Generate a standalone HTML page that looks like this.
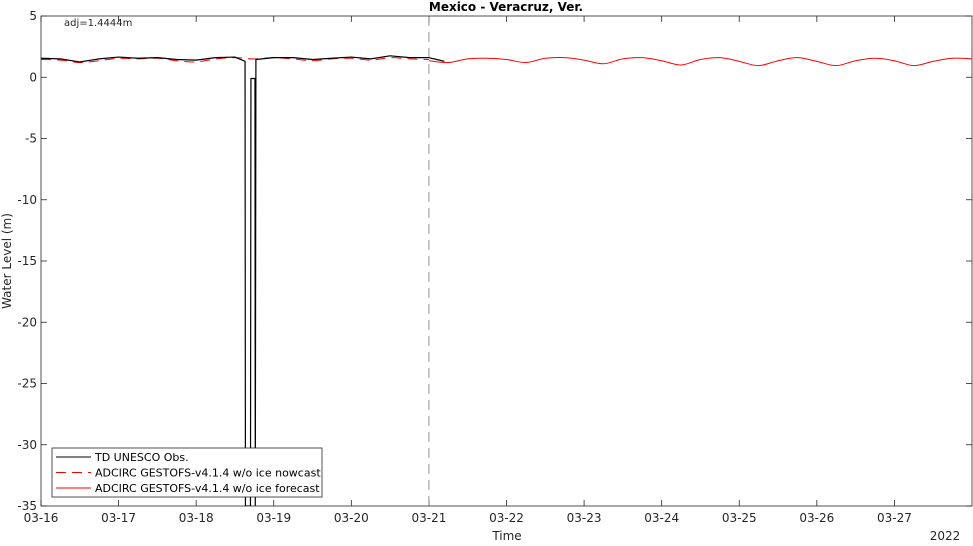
<!DOCTYPE html>
<html><head><meta charset="utf-8"><style>
body{margin:0;background:#fff}
svg text{font-family:"DejaVu Sans","Liberation Sans",sans-serif}
</style></head><body>
<svg id="c" width="973" height="541" xmlns="http://www.w3.org/2000/svg"></svg>
<script>
const xTickLabels=["03-16","03-17","03-18","03-19","03-20","03-21","03-22","03-23","03-24","03-25","03-26","03-27"];
const yTicks=[5,0,-5,-10,-15,-20,-25,-30,-35];
const nowTimes=[0,0.25,0.5,0.75,1,1.25,1.5,1.75,2,2.25,2.5,2.75,3,3.25,3.5,3.75,4,4.25,4.5,4.75,5];
const nowValues=[1.45,1.4,1.2,1.35,1.55,1.5,1.55,1.35,1.25,1.5,1.6,1.5,1.6,1.5,1.35,1.5,1.55,1.4,1.6,1.5,1.45];
const fcTimes=[5,5.25,5.5,5.75,6,6.25,6.5,6.75,7,7.25,7.5,7.75,8,8.25,8.5,8.75,9,9.25,9.5,9.75,10,10.25,10.5,10.75,11,11.25,11.5,11.75,12];
const fcValues=[1.35,1.2,1.5,1.55,1.45,1.2,1.55,1.6,1.4,1.1,1.5,1.6,1.35,1.0,1.45,1.6,1.3,0.95,1.35,1.6,1.3,0.95,1.35,1.55,1.35,0.95,1.3,1.55,1.5];
const obsTimes=[0,0.25,0.5,0.75,1,1.25,1.5,1.75,2,2.25,2.5,2.63,2.635,2.70,2.706,2.758,2.762,2.77,3,3.25,3.5,3.75,4,4.25,4.5,4.75,5,5.1,5.2];
const obsValues=[1.55,1.5,1.25,1.5,1.65,1.55,1.6,1.45,1.4,1.6,1.65,1.3,-35,-35,-0.1,-0.1,-35,1.45,1.6,1.6,1.45,1.55,1.65,1.5,1.75,1.6,1.6,1.45,1.3];
const X0=41,X1=972,Y0=16,Y1=506;
const xs=d=>X0+d*(X1-X0)/12;
const ys=v=>Y0+(5-v)*(Y1-Y0)/40;
const svg=document.getElementById('c');
const NS="http://www.w3.org/2000/svg";
function mk(t,a,p){const e=document.createElementNS(NS,t);for(const k in a)e.setAttribute(k,a[k]);(p||svg).appendChild(e);return e;}
function smooth(T,V){let d=`M${xs(T[0])},${ys(V[0])}`;for(let i=0;i<T.length-1;i++){const p0=i?i-1:i,p3=i+2<T.length?i+2:i+1;
const x1=xs(T[i])+(xs(T[i+1])-xs(T[p0]))/6,y1=ys(V[i])+(ys(V[i+1])-ys(V[p0]))/6;
const x2=xs(T[i+1])-(xs(T[p3])-xs(T[i]))/6,y2=ys(V[i+1])-(ys(V[p3])-ys(V[i]))/6;
d+=` C${x1},${y1} ${x2},${y2} ${xs(T[i+1])},${ys(V[i+1])}`;}return d;}
const defs=mk('defs',{});const cp=mk('clipPath',{id:'pc'},defs);mk('rect',{x:X0,y:Y0,width:X1-X0,height:Y1-Y0},cp);
xTickLabels.forEach((l,i)=>{const x=xs(i);
let t=mk('line',{x1:x,x2:x,y1:Y1,y2:Y1-6,stroke:'#262626','stroke-width':0.8});
mk('line',{x1:x,x2:x,y1:Y0,y2:Y0+6,stroke:'#262626','stroke-width':0.8});
let tx=mk('text',{x:x,y:Y1+16,'font-size':12,'text-anchor':'middle',fill:'#262626'});tx.textContent=l;});
yTicks.forEach(v=>{const y=ys(v);
let t=mk('line',{x1:X0,x2:X0+6,y1:y,y2:y,stroke:'#262626','stroke-width':0.8});
mk('line',{x1:X1-6,x2:X1,y1:y,y2:y,stroke:'#262626','stroke-width':0.8});
let tx=mk('text',{x:X0-4,y:y+4,'font-size':12,'text-anchor':'end',fill:'#262626'});tx.textContent=v;});
let dv=mk('line',{x1:xs(5),x2:xs(5),y1:Y0,y2:Y1,stroke:'#777','stroke-width':0.8,'stroke-dasharray':'10,6'});

const g=mk('g',{'clip-path':'url(#pc)'});
let nw=mk('path',{d:smooth(nowTimes,nowValues),fill:'none',stroke:'#ff0000','stroke-width':1,'stroke-dasharray':'10,6'},g);

let fc=mk('path',{d:smooth(fcTimes,fcValues),fill:'none',stroke:'#ff0000','stroke-width':1},g);

let od='';obsTimes.forEach((t,i)=>{od+=(i?'L':'M')+xs(t)+','+ys(obsValues[i]);});
let ob=mk('path',{d:od,fill:'none',stroke:'#000','stroke-width':1.2,'stroke-linejoin':'round'},g);

let bx=mk('rect',{x:X0,y:Y0,width:X1-X0,height:Y1-Y0,fill:'none',stroke:'#262626','stroke-width':0.8});

function txt(s,a,n){const e=mk('text',a);e.textContent=s;return e;}
txt('Mexico - Veracruz, Ver.',{x:506,y:11,'font-size':12,'font-weight':'bold','text-anchor':'middle',fill:'#000'},'chart-title');
txt('adj=1.4444m',{x:64,y:26,'font-size':10,fill:'#262626'},'adjustment-note');
txt('Water Level (m)',{x:11,y:261,'font-size':12,'text-anchor':'middle',fill:'#262626',transform:'rotate(-90 11 261)'},'y-axis-title');
txt('Time',{x:507,y:540,'font-size':12,'text-anchor':'middle',fill:'#262626'},'x-axis-title');
txt('2022',{x:945,y:540,'font-size':12,'text-anchor':'middle',fill:'#262626'},'year-label');
const lg=mk('g',{});
mk('rect',{x:52,y:448,width:270,height:49,fill:'#fff',stroke:'#262626','stroke-width':0.8},lg);
const items=[['TD UNESCO Obs.','#000',''],['ADCIRC GESTOFS-v4.1.4 w/o ice nowcast','#ff0000','10,6'],['ADCIRC GESTOFS-v4.1.4 w/o ice forecast','#ff0000','']];
items.forEach((it,i)=>{const y=457+i*15.5;
mk('line',{x1:56,x2:91,y1:y,y2:y,stroke:it[1],'stroke-width':1,'stroke-dasharray':it[2]||'none'},lg);
const e=mk('text',{x:95,y:y+4,'font-size':11,fill:'#000'},lg);e.textContent=it[0];});
</script>
</body></html>
